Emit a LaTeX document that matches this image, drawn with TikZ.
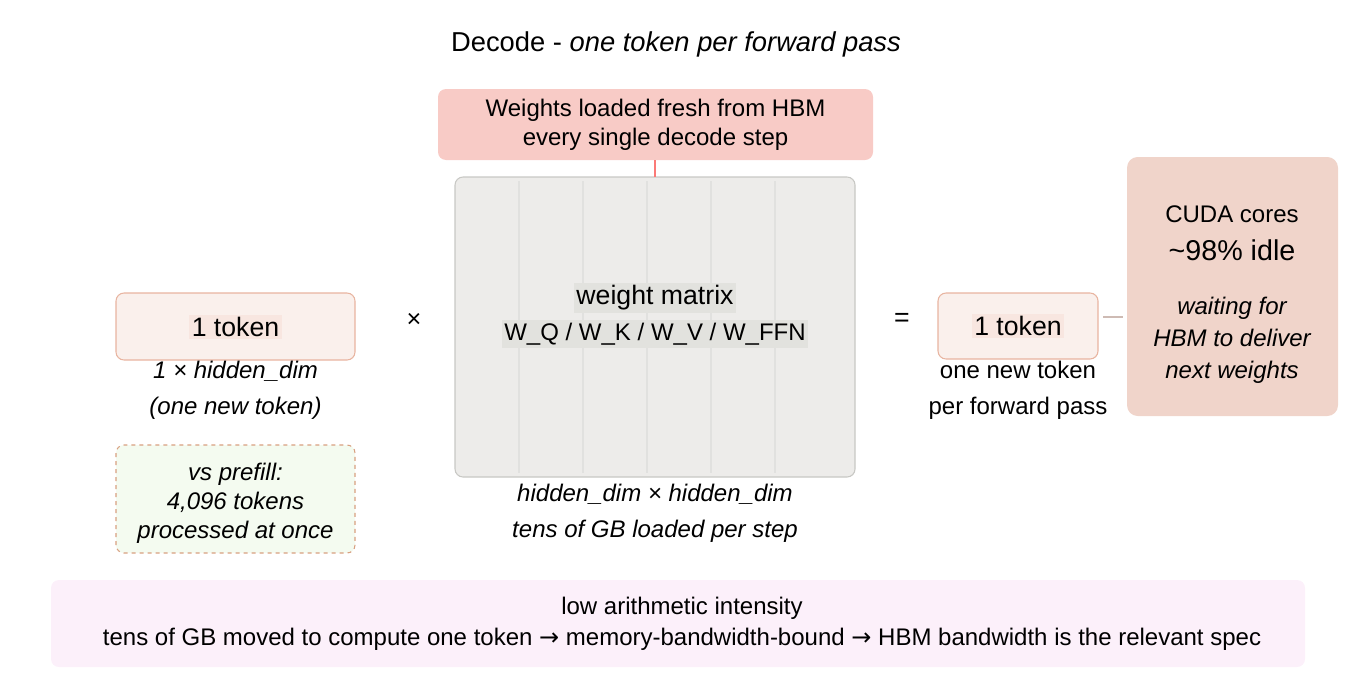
\documentclass[tikz,border=0pt]{standalone}
\usepackage{fontspec}
\setmainfont{Liberation Sans}
\newfontfamily\djv{DejaVu Sans}
\begin{document}
\begin{tikzpicture}[x=0.75pt,y=-0.75pt,
  box/.style={draw, rounded corners=6pt, line width=0.8pt},
  txt/.style={inner sep=1pt, align=center, font=\fontsize{18}{21.5}\selectfont},
  hl/.style={txt, fill=hlc, inner sep=2pt}]
\definecolor{redbox}{HTML}{F8CBC6}
\definecolor{matfill}{HTML}{EDECEA}
\definecolor{matline}{HTML}{C8C8C4}
\definecolor{tokfill}{HTML}{FAF0EC}
\definecolor{tokline}{HTML}{E8B4A0}
\definecolor{greenfill}{HTML}{F4FBF0}
\definecolor{dashc}{HTML}{D8A080}
\definecolor{cudafill}{HTML}{F0D4CA}
\definecolor{botfill}{HTML}{FCF0FA}
\definecolor{hlc}{HTML}{E2E2DE}
\definecolor{tokhl}{HTML}{F8E6E0}
\useasboundingbox (0,0) rectangle (1352,682);
% title
\node[txt, font=\fontsize{20.5}{24}\selectfont] (title) at (676,44) {Decode - \textit{one token per forward pass}};
% red box
\path[fill=redbox, rounded corners=6pt] (438,89) rectangle (873,160);
\node[txt] (red) at (655.5,125) {Weights loaded fresh from HBM\\every single decode step};
\coordinate (redb) at (655,160);
% matrix
\draw[box, fill=matfill, draw=matline] (455,177) rectangle (855,477);
\coordinate (matt) at (655,177);
\draw[draw=redbox!60!red, line width=0.8pt] (redb) -- (matt);
\foreach \x in {519,583,647,711,775} \draw[matline!55, line width=0.8pt] (\x,181) -- (\x,473);
\node[hl, font=\fontsize{20}{24}\selectfont] (wm) at (655,298) {weight matrix};
\node[hl] (wq) at (655,334) {W\_Q / W\_K / W\_V / W\_FFN};
\node[txt, font=\itshape\fontsize{18}{27}\selectfont] (matlab) at (655,513) {hidden\_dim × hidden\_dim\\tens of GB loaded per step};
% left token
\draw[box, fill=tokfill, draw=tokline] (116,293) rectangle (355,360);
\node[txt, fill=tokhl, inner sep=2pt, font=\fontsize{20}{24}\selectfont] (lt) at (235.5,327) {1 token};
\node[txt, font=\itshape\fontsize{18}{27}\selectfont] (ltlab) at (235.5,390) {1 × hidden\_dim\\(one new token)};
\node[txt, font=\fontsize{19}{20}\selectfont] (times) at (414,320) {×};
\node[txt, font=\fontsize{20}{20}\selectfont] (eq) at (902,320) {=};
% dashed
\draw[box, fill=greenfill, draw=dashc, dashed] (116,445) rectangle (355,553);
\node[txt, font=\itshape\fontsize{18}{21.8}\selectfont] (pre) at (235.5,503) {vs prefill:\\4,096 tokens\\processed at once};
% right token
\draw[box, fill=tokfill, draw=tokline] (938,293) rectangle (1098,359);
\node[txt, fill=tokhl, inner sep=2pt, font=\fontsize{20}{24}\selectfont] (rt) at (1018,326) {1 token};
\node[txt, font=\fontsize{18}{27}\selectfont] (rtlab) at (1018,390) {one new token\\per forward pass};
\coordinate (rtr) at (1103,317);
% cuda
\path[fill=cudafill, rounded corners=8pt] (1127,157) rectangle (1338,416);
\coordinate (cudal) at (1123,317);
\draw[draw=cudafill!70!gray, line width=0.8pt] (rtr) -- (cudal);
\node[txt] (cuda) at (1232,214) {CUDA cores};
\node[txt, font=\fontsize{21.5}{24}\selectfont] (idle) at (1232,250) {\textasciitilde98\% idle};
\node[txt, font=\itshape\fontsize{18}{24}\selectfont] (wait) at (1232,340) {waiting for\\HBM to deliver\\next weights};
% bottom
\path[fill=botfill, rounded corners=6pt] (51,580) rectangle (1305,667);
\node[txt, font=\fontsize{18}{23}\selectfont] (bot) at (682,624) {low arithmetic intensity\\tens of GB moved to compute one token {\djv →} memory-bandwidth-bound {\djv →} HBM bandwidth is the relevant spec};
\end{tikzpicture}
\end{document}
